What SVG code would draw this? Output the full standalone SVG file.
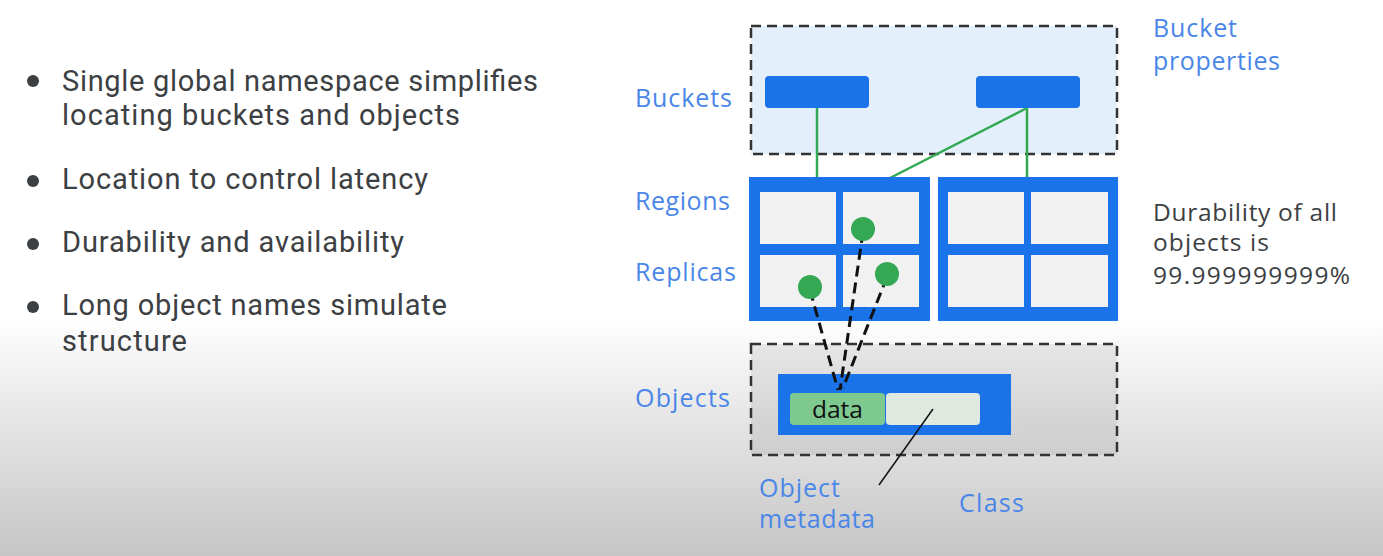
<svg xmlns="http://www.w3.org/2000/svg" width="1383" height="556" viewBox="0 0 1383 556">
<defs>
<linearGradient id="bg" x1="0" y1="0" x2="0" y2="1">
<stop offset="0" stop-color="#ffffff"/>
<stop offset="0.57" stop-color="#ffffff"/>
<stop offset="0.75" stop-color="#e6e6e6"/>
<stop offset="1" stop-color="#c6c6c6"/>
</linearGradient>
<style>
.body{font-family:Roboto,"Liberation Sans",sans-serif;font-size:29px;fill:#3c4043}
.side{font-family:"Open Sans","Liberation Sans",sans-serif;font-size:24.5px;fill:#3c4043}
.lbl{font-family:"Open Sans","Liberation Sans",sans-serif;font-size:25px;fill:#4a86e8}
.dash{stroke:#333;stroke-width:2.5;stroke-dasharray:10 6}
.blue{fill:#1a73e8}
.cell{fill:#f1f1f1}
.green{stroke:#34a853;stroke-width:2.5;fill:none}
.rep{fill:#34a853}
.dl{stroke:#111;stroke-width:3;fill:none;stroke-dasharray:11 6}
</style>
</defs>
<rect width="1383" height="556" fill="url(#bg)"/>

<g id="bullets">
<circle cx="33" cy="81" r="6" fill="#3c4043"/>
<text class="body" x="62" y="91" textLength="476" lengthAdjust="spacing">Single global namespace simplifies</text>
<text class="body" x="62" y="125" textLength="398" lengthAdjust="spacing">locating buckets and objects</text>
<circle cx="33" cy="181" r="6" fill="#3c4043"/>
<text class="body" x="62" y="189" textLength="366" lengthAdjust="spacing">Location to control latency</text>
<circle cx="33" cy="244" r="6" fill="#3c4043"/>
<text class="body" x="62" y="252" textLength="342" lengthAdjust="spacing">Durability and availability</text>
<circle cx="33" cy="307" r="6" fill="#3c4043"/>
<text class="body" x="62" y="315" textLength="385" lengthAdjust="spacing">Long object names simulate</text>
<text class="body" x="62" y="351" textLength="125" lengthAdjust="spacing">structure</text>
</g>

<g id="bucket-area">
<rect x="751" y="26" width="366" height="128" fill="#e3f0fc" class="dash"/>
</g>
<g id="object-area">
<rect x="751" y="344" width="366" height="111" fill="#000000" fill-opacity="0.07" class="dash"/>
</g>

<g id="labels">
<text class="lbl" x="635" y="107" textLength="97" lengthAdjust="spacing">Buckets</text>
<text class="lbl" x="635" y="210" textLength="95" lengthAdjust="spacing">Regions</text>
<text class="lbl" x="635" y="281" textLength="101" lengthAdjust="spacing">Replicas</text>
<text class="lbl" x="635" y="407" textLength="95" lengthAdjust="spacing">Objects</text>
<text class="lbl" x="1153" y="37" textLength="84" lengthAdjust="spacing">Bucket</text>
<text class="lbl" x="1153" y="70" textLength="127" lengthAdjust="spacing">properties</text>
<text class="lbl" x="759" y="497" textLength="81" lengthAdjust="spacing">Object</text>
<text class="lbl" x="759" y="528" textLength="116" lengthAdjust="spacing">metadata</text>
<text class="lbl" x="959" y="512" textLength="65" lengthAdjust="spacing">Class</text>
<text class="side" x="1153" y="221" textLength="184" lengthAdjust="spacing">Durability of all</text>
<text class="side" x="1153" y="251" textLength="116" lengthAdjust="spacing">objects is</text>
<text class="side" x="1153" y="284" textLength="197" lengthAdjust="spacing">99.999999999%</text>
</g>

<g id="connectors">
<line class="green" x1="817" y1="108" x2="817" y2="178"/>
<line class="green" x1="1027" y1="108" x2="890" y2="178"/>
<line class="green" x1="1027" y1="108" x2="1027" y2="178"/>
</g>

<g id="bucket1"><rect class="blue" x="765" y="76" width="104" height="32" rx="4"/></g>
<g id="bucket2"><rect class="blue" x="976" y="76" width="104" height="32" rx="4"/></g>

<g id="region1">
<rect class="blue" x="749" y="177" width="181" height="144"/>
<rect class="cell" x="760" y="192" width="76" height="52"/>
<rect class="cell" x="843" y="192" width="76" height="52"/>
<rect class="cell" x="760" y="255" width="76" height="52"/>
<rect class="cell" x="843" y="255" width="76" height="52"/>
</g>
<g id="region2">
<rect class="blue" x="938" y="177" width="180" height="144"/>
<rect class="cell" x="948" y="192" width="76" height="52"/>
<rect class="cell" x="1031" y="192" width="77" height="52"/>
<rect class="cell" x="948" y="255" width="76" height="52"/>
<rect class="cell" x="1031" y="255" width="77" height="52"/>
</g>

<g id="object">
<rect class="blue" x="778" y="374" width="233" height="61"/>
<rect x="790" y="393" width="95" height="32" rx="4" fill="#7ec98f"/>
<rect x="886" y="393" width="94" height="32" rx="4" fill="#dfe9df"/>
<text x="812" y="418" textLength="51" lengthAdjust="spacingAndGlyphs" style="font-family:'Open Sans','Liberation Sans',sans-serif;font-size:24px;fill:#111">data</text>
</g>

<g id="replica-links">
<line class="dl" x1="810" y1="290" x2="838" y2="390"/>
<line class="dl" x1="863" y1="232" x2="840" y2="390"/>
<line class="dl" x1="887" y1="277" x2="843" y2="388"/>
<line stroke="#111" stroke-width="1.5" x1="933" y1="409" x2="879" y2="485"/>
</g>

<g id="replicas">
<circle class="rep" cx="863" cy="229" r="12"/>
<circle class="rep" cx="887" cy="274" r="12"/>
<circle class="rep" cx="810" cy="287" r="12"/>
</g>
</svg>
